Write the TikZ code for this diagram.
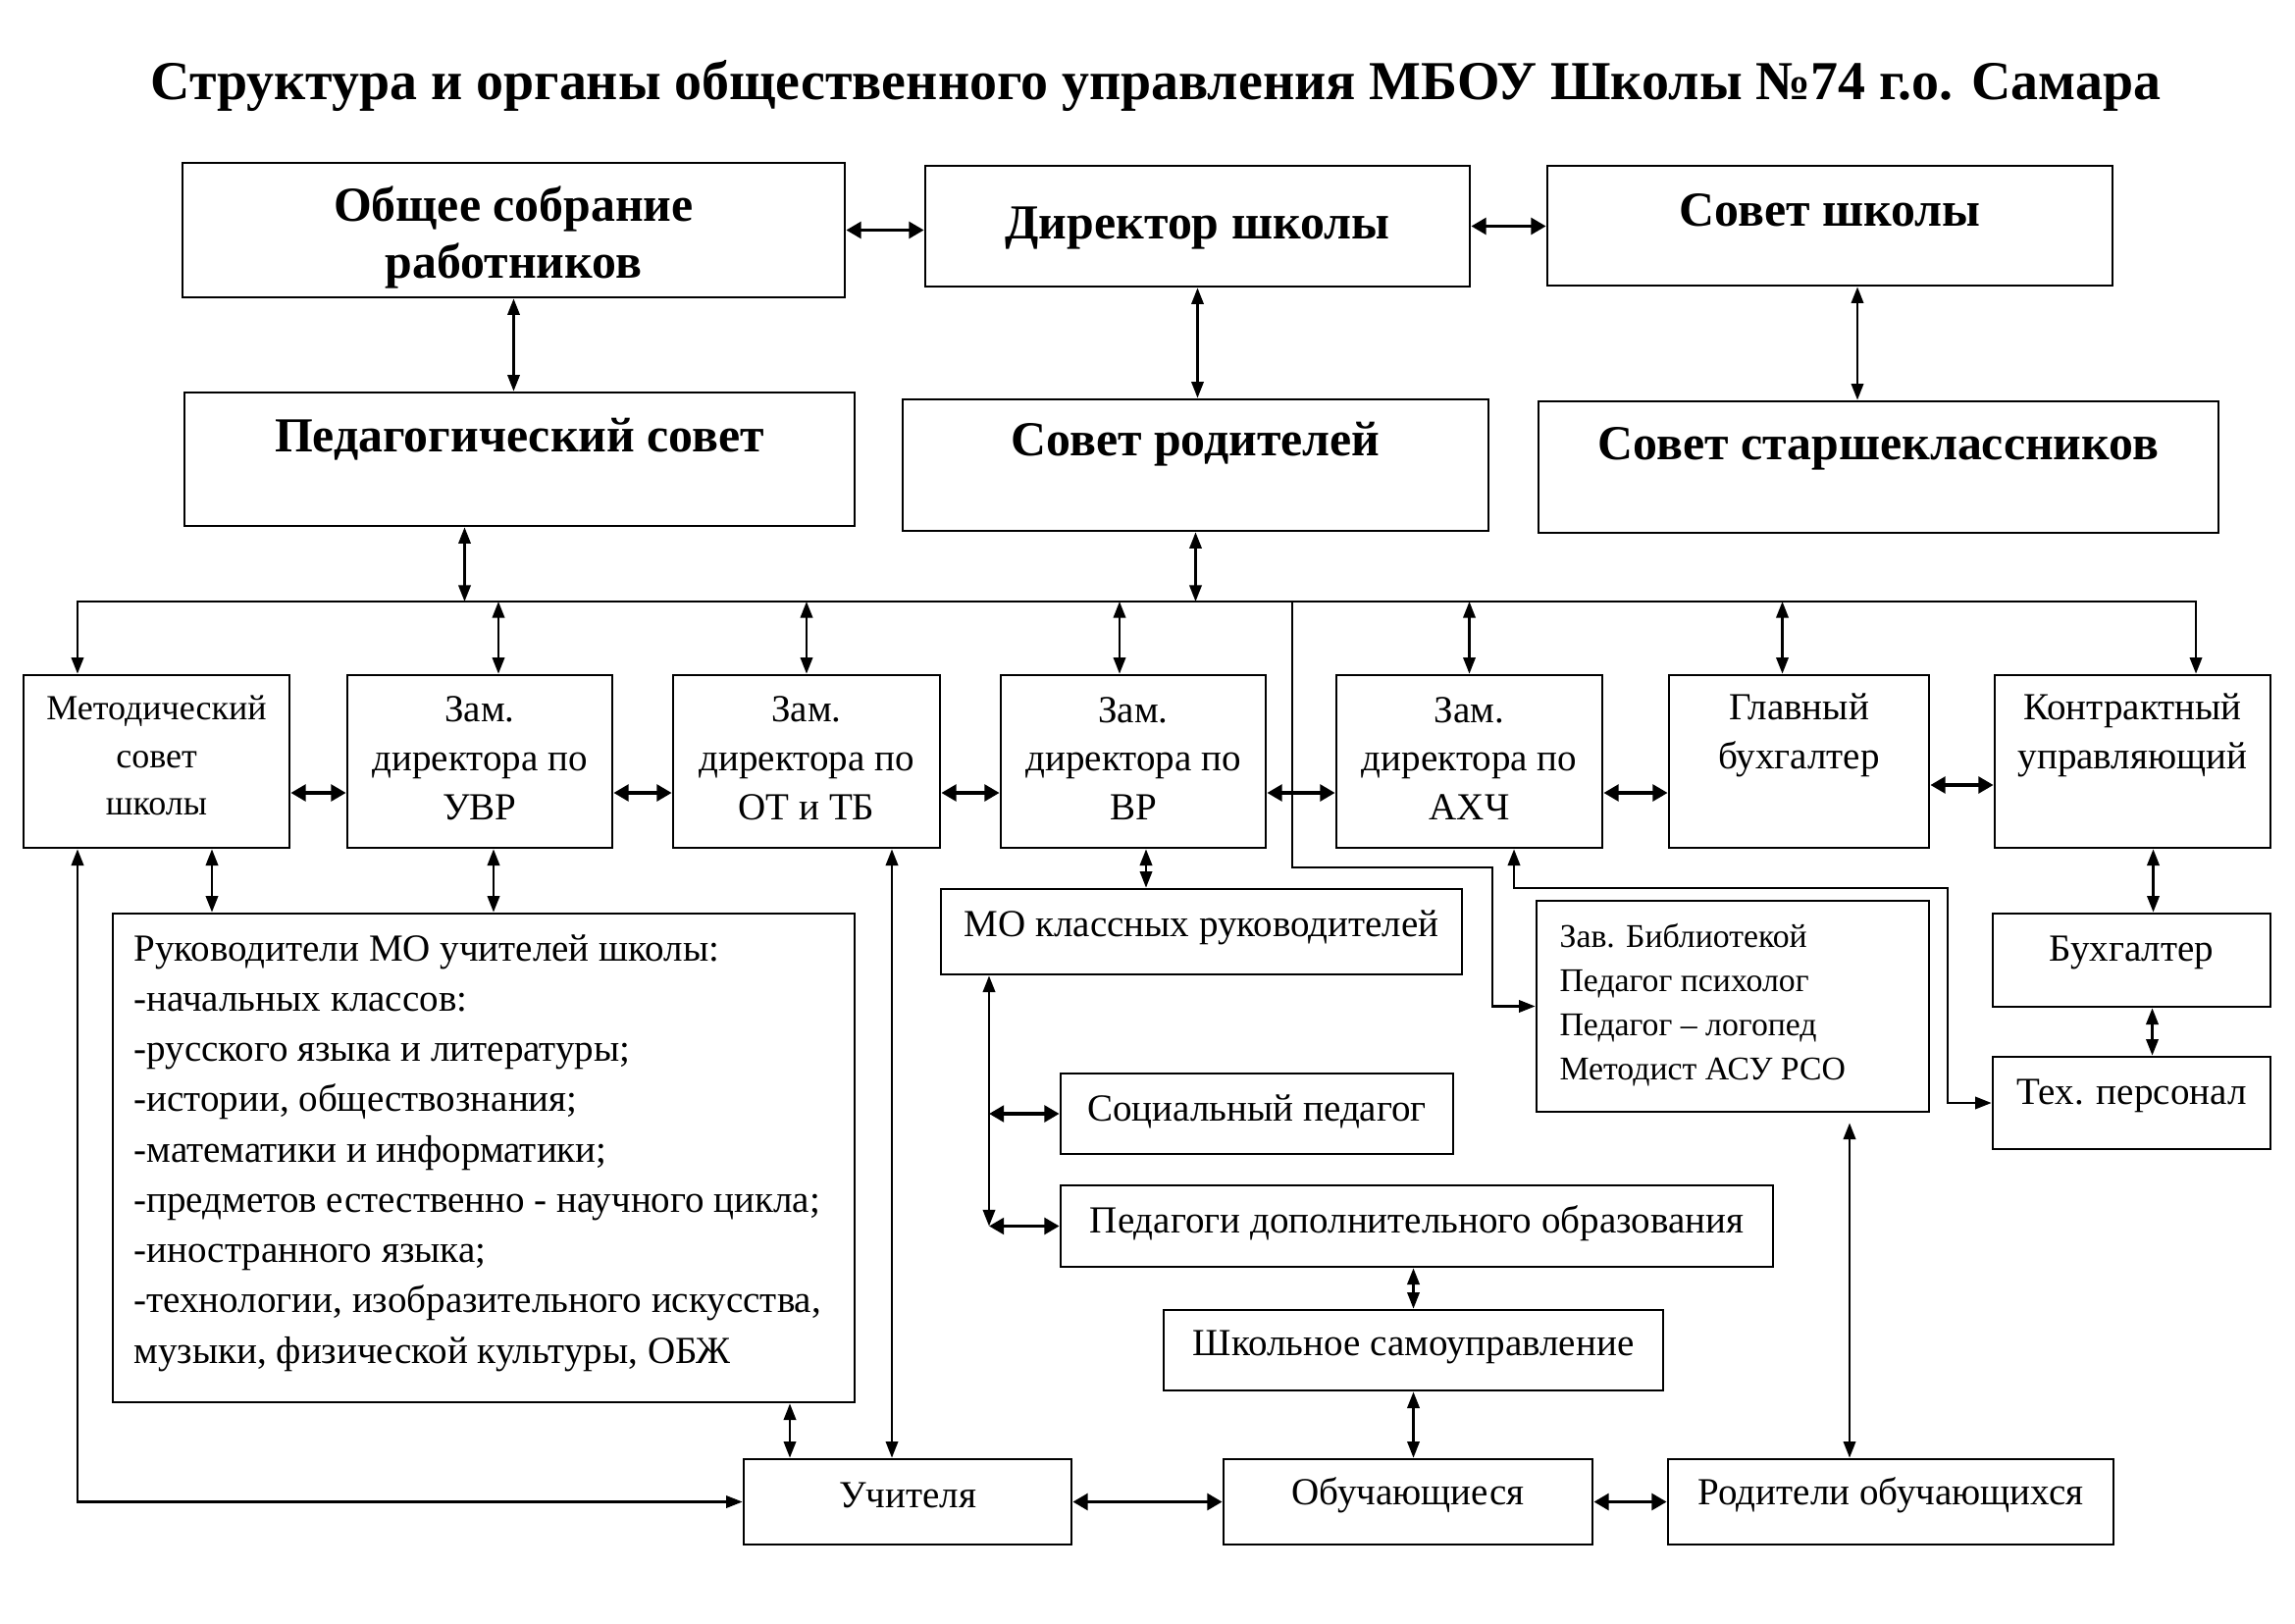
\documentclass[tikz,border=0pt]{standalone}
\usepackage{fontspec}
\setmainfont{Liberation Serif}
\usetikzlibrary{arrows.meta,fit,calc}
\def\u{0.012698cm}
\newcommand\mybox[8]{\node[box,fit={(#3,#4)(#5,#6)}] (#2) {};
 \node[#1] (#2t) at ({(#3+#5)/2},#7) {#8};}
\begin{document}
\begin{tikzpicture}[x=0.012698cm,y=-0.012698cm,
  box/.style={draw,line width=1pt,inner sep=0pt},
  hb/.style={font=\fontsize{18}{21}\selectfont\bfseries,align=center,inner sep=0pt},
  tx/.style={font=\fontsize{14.1}{18}\selectfont,align=center,inner sep=0pt},
  txs/.style={font=\fontsize{13}{17.5}\selectfont,align=center,inner sep=0pt},
  ln/.style={line width=0.8pt},
  darr/.style={ln,{Triangle[length=6pt,width=4.5pt]}-{Triangle[length=6pt,width=4.5pt]}},
  arr/.style={ln,-{Triangle[length=6pt,width=4.5pt]}},
  tdarr/.style={line width=1.3pt,{Triangle[length=5.5pt,width=6pt]}-{Triangle[length=5.5pt,width=6pt]}}]
\useasboundingbox (0,0) rectangle (2339,1654);
\node[font=\fontsize{20.2}{24}\selectfont\bfseries,inner sep=0pt] (title) at (1178,88) {Структура и органы общественного управления МБОУ Школы №74 г.о. Самара};
% top rows
\mybox{hb}{gen}{186}{166}{861}{303}{242}{Общее собрание\\работников}
\mybox{hb}{dir}{943}{169}{1498}{292}{233}{Директор школы}
\mybox{hb}{sch}{1577}{169}{2153}{291}{214}{Совет школы}
\mybox{hb}{ped}{188}{400}{871}{536}{448}{Педагогический совет}
\mybox{hb}{rod}{920}{407}{1517}{541}{453}{Совет родителей}
\mybox{hb}{star}{1568}{409}{2261}{543}{457}{Совет старшеклассников}
% second row
\mybox{txs}{met}{24}{688}{295}{864}{770}{Методический\\совет\\школы}
\mybox{tx}{uvr}{354}{688}{624}{864}{773}{Зам.\\директора по\\УВР}
\mybox{tx}{ot}{686}{688}{958}{864}{773}{Зам.\\директора по\\ОТ и ТБ}
\mybox{tx}{vr}{1020}{688}{1290}{864}{773}{Зам.\\директора по\\ВР}
\mybox{tx}{axc}{1362}{688}{1633}{864}{773}{Зам.\\директора по\\АХЧ}
\mybox{tx}{gb}{1701}{688}{1966}{864}{749}{Главный\\бухгалтер}
\mybox{tx}{kon}{2033}{688}{2314}{864}{749}{Контрактный\\управляющий}
% lower boxes
\mybox{tx}{mo}{959}{906}{1490}{993}{945}{МО классных руководителей}
\mybox{tx}{bux}{2031}{931}{2314}{1026}{971}{Бухгалтер}
\mybox{tx}{tex}{2031}{1077}{2314}{1171}{1117}{Тех. персонал}
\mybox{tx}{soc}{1081}{1094}{1481}{1176}{1133}{Социальный педагог}
\mybox{tx}{pdo}{1081}{1208}{1807}{1291}{1247}{Педагоги дополнительного образования}
\mybox{tx}{shk}{1186}{1335}{1695}{1417}{1373}{Школьное самоуправление}
\mybox{tx}{uch}{758}{1487}{1092}{1574}{1524}{Учителя}
\mybox{tx}{obu}{1247}{1487}{1623}{1574}{1524}{Обучающиеся}
\mybox{tx}{rodo}{1700}{1487}{2154}{1574}{1524}{Родители обучающихся}
\node[box,fit={(1566,918)(1966,1133)}] (zav) {};
\node[font=\fontsize{12.2}{16.3}\selectfont,align=left,inner sep=0pt,anchor=west] (zavt) at (1589,1024) {Зав. Библиотекой\\Педагог психолог\\Педагог – логопед\\Методист АСУ РСО};
\node[box,fit={(115,931)(871,1429)}] (ruk) {};
\node[font=\fontsize{14.1}{18.5}\selectfont,align=left,inner sep=0pt,anchor=west] (rukt) at (136,1175) {Руководители МО учителей школы:\\-начальных классов:\\-русского языка и литературы;\\-истории, обществознания;\\-математики и информатики;\\-предметов естественно - научного цикла;\\-иностранного языка;\\-технологии, изобразительного искусства,\\музыки, физической культуры, ОБЖ};
% top connectors
\draw[tdarr] (gen.east) -- (gen.east -| dir.west);
\draw[tdarr] (dir.east) -- (dir.east -| sch.west);
\draw[darr] (gen.south) -- (gen.south |- ped.north);
\draw[darr] (dir.south) -- (dir.south |- rod.north);
\coordinate (c1) at ([xshift=28*\u]sch.south);
\draw[darr] (c1) -- (c1 |- star.north);
% bus
\coordinate (busL) at (79,613);
\coordinate (busR) at (2238,613);
\coordinate (bB) at (1317,613);
\draw[darr] (busL |- met.north) -- (busL) -- (busR) -- (busR |- kon.north);
\coordinate (c2) at ([xshift=-56*\u]ped.south);
\draw[darr] (c2) -- (c2 |- busL);
\draw[darr] (rod.south) -- (rod.south |- busL);
\coordinate (c3) at ([xshift=19*\u]uvr.north);
\draw[darr] (c3) -- (c3 |- busL);
\draw[darr] (ot.north) -- (ot.north |- busL);
\coordinate (c4) at ([xshift=-14*\u]vr.north);
\draw[darr] (c4) -- (c4 |- busL);
\draw[darr] (axc.north) -- (axc.north |- busL);
\coordinate (c5) at ([xshift=-17*\u]gb.north);
\draw[darr] (c5) -- (c5 |- busL);
\coordinate (k1) at (1521,884);
\draw[arr] (bB) |- (k1) |- (zav.west);
% row 2 horizontals
\foreach \a/\b in {met/uvr,uvr/ot,ot/vr,vr/axc,axc/gb}
  \draw[tdarr] ([yshift=-32*\u]\a.east) -- ([yshift=-32*\u]\b.west);
\draw[tdarr] ([yshift=-24*\u]gb.east) -- ([yshift=-24*\u]kon.west);
% lower connectors
\draw[darr] (busL |- met.south) |- (uch.west);
\coordinate (c6) at ([xshift=56.5*\u]met.south);
\draw[darr] (c6) -- (c6 |- ruk.north);
\coordinate (c7) at ([xshift=14*\u]uvr.south);
\draw[darr] (c7) -- (c7 |- ruk.north);
\coordinate (c8) at ([xshift=87*\u]ot.south);
\draw[darr] (c8) -- (c8 |- uch.north);
\coordinate (c9) at ([xshift=-120*\u]uch.north);
\draw[darr] (c9 |- ruk.south) -- (c9);
\coordinate (c10) at ([xshift=13*\u]vr.south);
\draw[darr] (c10) -- (c10 |- mo.north);
\coordinate (c11) at ([xshift=45.5*\u]axc.south);
\coordinate (k2) at (1985,905);
\draw[darr] (c11) |- (k2) |- (tex.west);
\coordinate (v1) at ([xshift=-216.5*\u]mo.south);
\draw[darr] (v1) -- (v1 |- pdo.west);
\draw[tdarr] (v1 |- soc.west) -- (soc.west);
\draw[tdarr] (v1 |- pdo.west) -- (pdo.west);
\draw[darr] (shk.north) -- (shk.north |- pdo.south);
\draw[darr] (shk.south) -- (shk.south |- obu.north);
\draw[tdarr] (uch.east) -- (obu.west);
\draw[tdarr] (obu.east) -- (rodo.west);
\coordinate (c12) at ([xshift=-42*\u]rodo.north);
\coordinate (c13a) at (c12 |- zav.south);
\coordinate (c13) at ([yshift=-10*\u]c13a);
\draw[darr] (c13) -- (c12);
\coordinate (c14) at ([xshift=21*\u]kon.south);
\draw[darr] (c14) -- (c14 |- bux.north);
\coordinate (c15) at ([xshift=21*\u]bux.south);
\draw[darr] (c15) -- (c15 |- tex.north);
\end{tikzpicture}
\end{document}
